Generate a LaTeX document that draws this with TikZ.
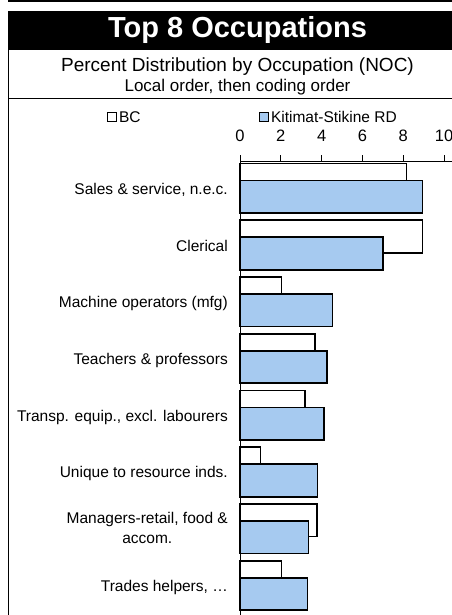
\documentclass[tikz,border=0pt]{standalone}
\usepackage{fontspec}
\setmainfont{Liberation Sans}
\usetikzlibrary{positioning}
\definecolor{rdblue}{RGB}{166,202,240}

\begin{document}
\begin{tikzpicture}[x=1pt, y=-1pt,
		frame_style/.style={draw=black, line width=1.4pt},
		bc_bar/.style={draw=black, fill=white, line width=1.6pt},
		rd_bar/.style={draw=black, fill=rdblue, line width=1.6pt},
		key_box/.style={draw=black, line width=1.2pt, minimum size=9pt, inner sep=0pt},
		key_style/.style={inner sep=0pt, font=\fontsize{15.5}{19}\selectfont},
		tick_style/.style={inner sep=0pt, font=\fontsize{16.5}{20}\selectfont},
		cat_style/.style={anchor=east, align=center, inner sep=0pt, font=\fontsize{15.5}{20}\selectfont}]
		
		\useasboundingbox (0,0) rectangle (451,615);
		
		% frame and titles
		\draw[frame_style] (8.5,-2) -- (8.5,1) -- (470,1);
		\fill[black] (8,11) rectangle (470,50);
		\node[text=white, font=\fontsize{29}{34}\selectfont\bfseries] (title) at (237.5,30) {Top 8 Occupations};
		\node[font=\fontsize{19}{22}\selectfont] (sub1) at (237.5,67) {Percent Distribution by Occupation (NOC)};
		\node[font=\fontsize{17}{20}\selectfont] (sub2) at (237.5,87) {Local order, then coding order};
		\draw[frame_style] (8.5,50) -- (8.5,616);
		\draw[frame_style] (8,98.5) -- (470,98.5);
		
		% legend
		\node[key_box, fill=white] (bc_key) at (112.3,117) {};
		\node[key_style, right=1.5pt of bc_key] (bc_text) {BC};
		\node[key_box, fill=rdblue] (rd_key) at (264.2,117) {};
		\node[key_style, right=1.5pt of rd_key] (rd_text) {Kitimat-Stikine RD};
		
		% axis and bars, 1 unit = 1 percent
		\begin{scope}[xshift=240pt, x=20.4pt]
		\node[tick_style] (t0) at (0,136) {0};
		\node[tick_style] (t2) at (2,136) {2};
		\node[tick_style] (t4) at (4,136) {4};
		\node[tick_style] (t6) at (6,136) {6};
		\node[tick_style] (t8) at (8,136) {8};
		\node[tick_style] (t10) at (10,136) {10};
		\draw[line width=0.9pt] (0,161) -- (11,161);
		\draw[line width=0.9pt] (2,155) -- (2,161);
		\draw[line width=0.9pt] (4,155) -- (4,161);
		\draw[line width=0.9pt] (6,155) -- (6,161);
		\draw[line width=0.9pt] (8,155) -- (8,161);
		\draw[line width=0.9pt] (10,155) -- (10,161);
		
		\draw[bc_bar] (0,163.5) rectangle (8.17,196);
		\draw[rd_bar] (0,180.5) rectangle (8.95,213);
		\draw[bc_bar] (0,220.25) rectangle (8.95,252.75);
		\draw[rd_bar] (0,237.25) rectangle (7.00,269.75);
		\draw[bc_bar] (0,277) rectangle (2.04,309.5);
		\draw[rd_bar] (0,294) rectangle (4.54,326.5);
		\draw[bc_bar] (0,333.75) rectangle (3.68,366.25);
		\draw[rd_bar] (0,350.75) rectangle (4.25,383.25);
		\draw[bc_bar] (0,390.5) rectangle (3.19,423);
		\draw[rd_bar] (0,407.5) rectangle (4.12,440);
		\draw[bc_bar] (0,447.25) rectangle (1.01,479.75);
		\draw[rd_bar] (0,464.25) rectangle (3.79,496.75);
		\draw[bc_bar] (0,504) rectangle (3.76,536.5);
		\draw[rd_bar] (0,521) rectangle (3.35,553.5);
		\draw[bc_bar] (0,560.75) rectangle (2.04,593.25);
		\draw[rd_bar] (0,577.75) rectangle (3.30,610.25);
		
		\draw[line width=0.9pt] (0,155) -- (0,616);
		\end{scope}
		
		% category labels
		\node[cat_style] (sales) at (228,190) {Sales \& service, n.e.c.};
		\node[cat_style] (clerical) at (228,246) {Clerical};
		\node[cat_style] (machine) at (228,303) {Machine operators (mfg)};
		\node[cat_style] (teachers) at (228,360) {Teachers \& professors};
		\node[cat_style] (transp) at (228,417) {Transp. equip., excl. labourers};
		\node[cat_style] (unique) at (228,473) {Unique to resource inds.};
		\node[cat_style] (managers) at (228,528) {Managers-retail, food \&\\accom.};
		\node[cat_style] (trades) at (228,587) {Trades helpers, \dots};
		
\end{tikzpicture}
\end{document}
